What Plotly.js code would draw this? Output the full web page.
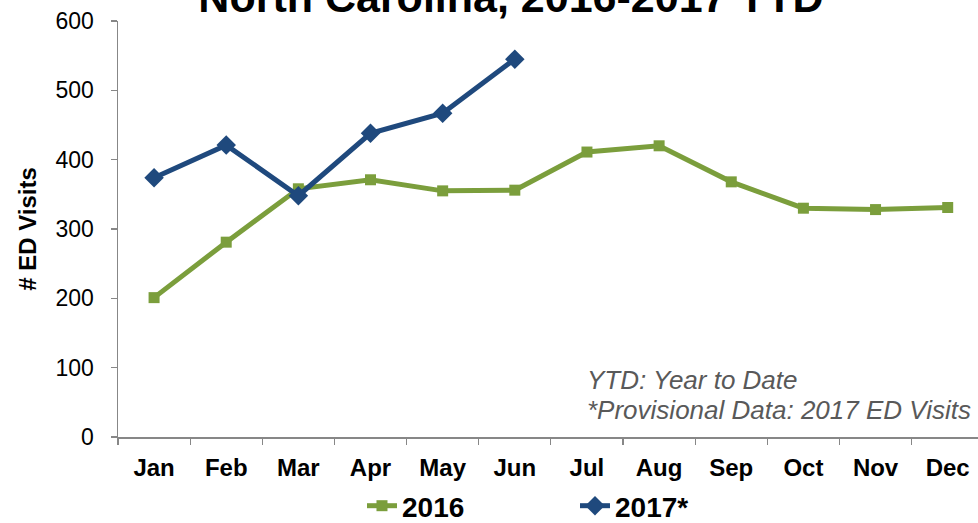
<!DOCTYPE html>
<html>
<head>
<meta charset="utf-8">
<script src="https://cdn.plot.ly/plotly-3.0.1.min.js"></script>
<style>html,body{margin:0;padding:0;background:#fff;}#chart{width:978px;height:523px;}</style>
</head>
<body>
<div id="chart"></div>
<script>
const months = ["Jan","Feb","Mar","Apr","May","Jun","Jul","Aug","Sep","Oct","Nov","Dec"];
const visits2016 = [201, 281, 358, 371, 355, 356, 411, 420, 368, 330, 328, 331];
const months2017 = ["Jan","Feb","Mar","Apr","May","Jun"];
const visits2017 = [374, 421, 348, 438, 467, 545];
const seriesNames = ["2016", "2017*"];
const titleText = "North Carolina, 2016-2017 YTD";
const noteLines = ["YTD: Year to Date", "*Provisional Data: 2017 ED Visits"];

const green = "#7B9E3C";
const blue = "#1F497D";
const axisGray = "#878787";

const traces = [
  {x: months, y: visits2016, name: seriesNames[0], type: "scatter", mode: "lines+markers",
   line: {color: green, width: 5}, marker: {symbol: "square", size: 11, color: green}},
  {x: months2017, y: visits2017, name: seriesNames[1], type: "scatter", mode: "lines+markers",
   line: {color: blue, width: 5}, marker: {symbol: "diamond", size: 15, color: blue}}
];

const layout = {
  width: 978, height: 523,
  margin: {l: 118, r: 0, t: 21, b: 86},
  paper_bgcolor: "#fff", plot_bgcolor: "#fff",
  font: {family: "Liberation Sans, Arial, sans-serif", color: "#000"},
  title: {text: titleText, font: {family: "Liberation Sans, Arial, sans-serif", size: 43, color: "#000", weight: "bold"},
          x: 511/978, xanchor: "center", y: 1 - 12/523, yanchor: "bottom", yref: "container"},
  xaxis: {type: "category", categoryarray: months, categoryorder: "array", range: [-0.5, 11.42],
          showline: true, linecolor: axisGray, linewidth: 1.5, showgrid: false, zeroline: false,
          ticks: "outside", ticklen: 6, tickcolor: axisGray, tickwidth: 1.2, tickson: "boundaries",
          ticklabelstandoff: 9,
          tickfont: {size: 24, family: "Liberation Sans, Arial, sans-serif", weight: "bold", color: "#000"}},
  yaxis: {range: [0, 600], dtick: 100, showline: true, linecolor: axisGray, linewidth: 1.5,
          showgrid: false, zeroline: false, ticks: "outside", ticklen: 6, tickcolor: axisGray, tickwidth: 1.2,
          ticklabelstandoff: 12,
          tickfont: {size: 23, color: "#000"},
          title: {text: "# ED Visits", font: {size: 24, color: "#000", weight: "bold"}, standoff: 12}},
  showlegend: true,
  legend: {orientation: "h", x: 0.2837, xanchor: "left", y: 17/523, yref: "container", yanchor: "middle",
           entrywidth: 168, entrywidthmode: "pixels",
           font: {size: 28, color: "#000", weight: "bold"}, bgcolor: "rgba(0,0,0,0)"},
  annotations: noteLines.map((t, i) => ({
    text: t, xref: "paper", yref: "paper", x: (585 - 118) / 860, y: (437 - (380 + 30 * i)) / 416,
    xanchor: "left", yanchor: "middle", align: "left", showarrow: false,
    font: {size: 26, color: "#595959", style: "italic"}}))
};

Plotly.newPlot("chart", traces, layout, {displayModeBar: false, staticPlot: true});
</script>
</body>
</html>
